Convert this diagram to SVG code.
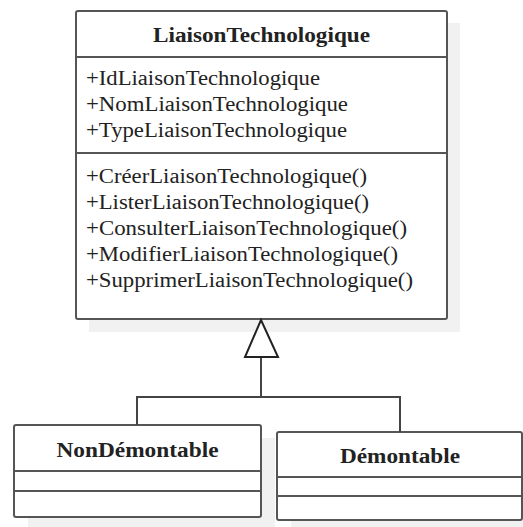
<svg xmlns="http://www.w3.org/2000/svg" width="523" height="527" viewBox="0 0 523 527">
<style>
.box{fill:#fff;stroke:#555;stroke-width:2}
.sh{fill:#f1f1f1;stroke:none}
.div{stroke:#555;stroke-width:2}
.t{font-family:"Liberation Serif","Times New Roman",serif;font-size:20px;fill:#222}
.b{font-weight:bold;text-anchor:middle}
.con{fill:none;stroke:#444;stroke-width:2}
.tri{fill:#fff;stroke:#222;stroke-width:2;stroke-linejoin:miter}
</style>
<rect width="523" height="527" fill="#fff"/>
<g id="LiaisonTechnologique">
<rect class="sh" x="89" y="23" width="371" height="309"/>
<rect class="box" x="76" y="11" width="371" height="308" rx="2"/>
<line class="div" x1="76" y1="57" x2="447" y2="57"/>
<line class="div" x1="76" y1="153" x2="447" y2="153"/>
<text class="t b" x="261.5" y="42" textLength="217" lengthAdjust="spacingAndGlyphs">LiaisonTechnologique</text>
<text class="t" x="86" y="85" textLength="234" lengthAdjust="spacingAndGlyphs">+IdLiaisonTechnologique</text>
<text class="t" x="86" y="111" textLength="262" lengthAdjust="spacingAndGlyphs">+NomLiaisonTechnologique</text>
<text class="t" x="86" y="137" textLength="261" lengthAdjust="spacingAndGlyphs">+TypeLiaisonTechnologique</text>
<text class="t" x="86" y="183" textLength="281" lengthAdjust="spacingAndGlyphs">+CréerLiaisonTechnologique()</text>
<text class="t" x="86" y="209" textLength="283" lengthAdjust="spacingAndGlyphs">+ListerLiaisonTechnologique()</text>
<text class="t" x="86" y="235" textLength="321" lengthAdjust="spacingAndGlyphs">+ConsulterLiaisonTechnologique()</text>
<text class="t" x="86" y="261" textLength="312" lengthAdjust="spacingAndGlyphs">+ModifierLiaisonTechnologique()</text>
<text class="t" x="86" y="287" textLength="327" lengthAdjust="spacingAndGlyphs">+SupprimerLiaisonTechnologique()</text>
</g>
<g id="NonDemontable">
<rect class="sh" x="28" y="438" width="247" height="92"/>
<rect class="box" x="14" y="425" width="247" height="92" rx="2"/>
<line class="div" x1="14" y1="471" x2="261" y2="471"/>
<line class="div" x1="14" y1="491" x2="261" y2="491"/>
<text class="t b" x="137.5" y="457" textLength="162" lengthAdjust="spacingAndGlyphs">NonDémontable</text>
</g>
<g id="Demontable">
<rect class="sh" x="291" y="445" width="245" height="90"/>
<rect class="box" x="277" y="432" width="245" height="88" rx="2"/>
<line class="div" x1="277" y1="477" x2="522" y2="477"/>
<line class="div" x1="277" y1="496" x2="522" y2="496"/>
<text class="t b" x="400" y="463" textLength="120" lengthAdjust="spacingAndGlyphs">Démontable</text>
</g>
<g id="connectors">
<path class="con" d="M137 425 V397 H400 V432"/>
<line class="con" x1="261" y1="397" x2="261" y2="357" stroke="#222"/>
<polygon class="tri" points="261,320 245,357 278,357"/>
</g>
</svg>
